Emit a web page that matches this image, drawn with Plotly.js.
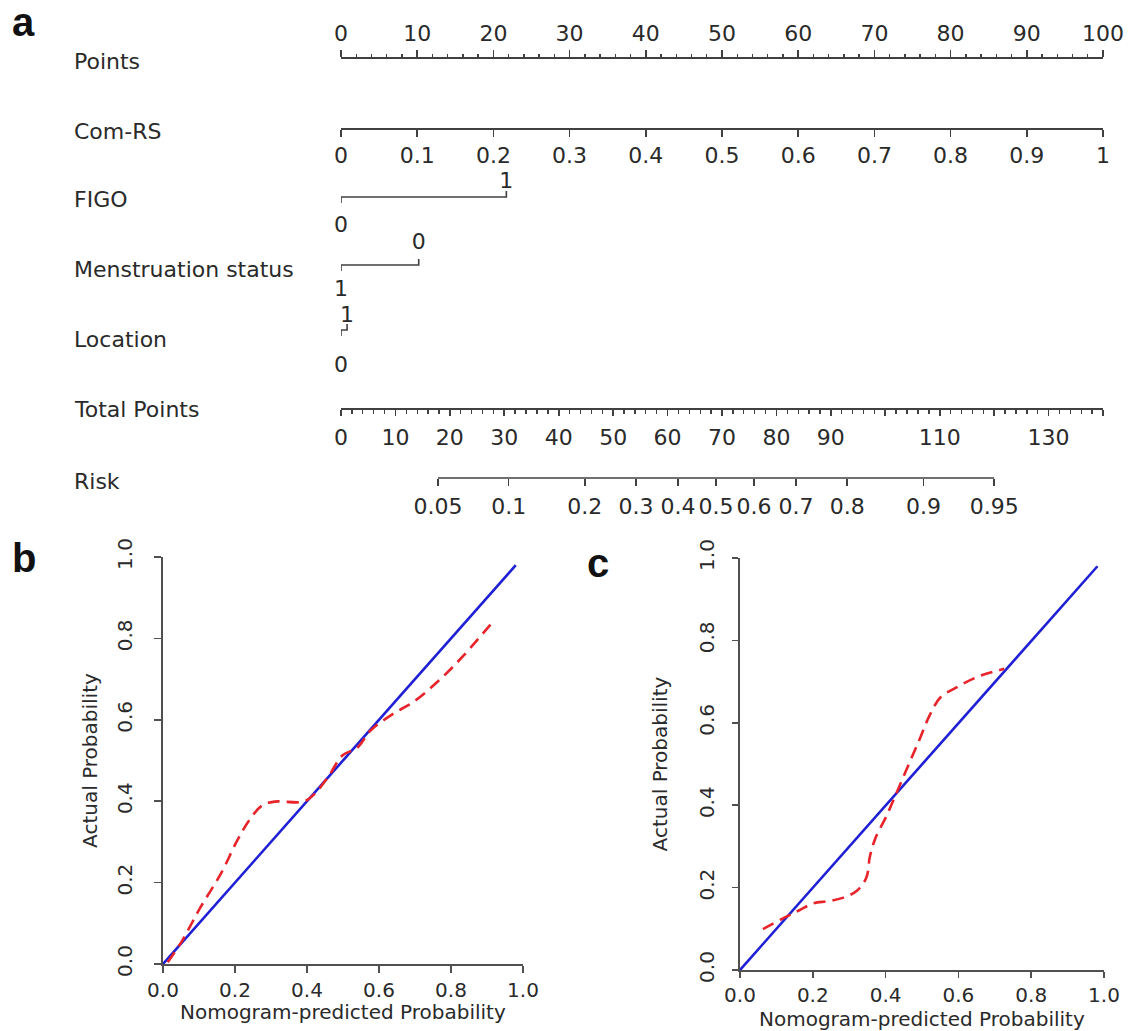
<!DOCTYPE html>
<html>
<head>
<meta charset="utf-8">
<script src="https://cdn.plot.ly/plotly-3.0.1.min.js"></script>
<style>html,body{margin:0;padding:0;background:#fff;}#chart{width:1129px;height:1031px;}</style>
</head>
<body>
<div id="chart"></div>
<script>
// ---------- DATA ----------
const rowLabels = ['Points', 'Com-RS', 'FIGO', 'Menstruation status', 'Location', 'Total Points', 'Risk'];

const pointsTickVals = [0, 10, 20, 30, 40, 50, 60, 70, 80, 90, 100];
const comrsTickVals = [0, 0.1, 0.2, 0.3, 0.4, 0.5, 0.6, 0.7, 0.8, 0.9, 1];
const comrsTickText = ['0', '0.1', '0.2', '0.3', '0.4', '0.5', '0.6', '0.7', '0.8', '0.9', '1'];

const figoLevels = ['0', '1'];
const figoPoints = [0, 21.7];
const mensLevels = ['1', '0'];
const mensPoints = [0, 10.2];
const locLevels = ['0', '1'];
const locPoints = [0, 0.8];

const totalTickVals = [0, 10, 20, 30, 40, 50, 60, 70, 80, 90, 100, 110, 120, 130, 140];
const totalTickText = ['0', '10', '20', '30', '40', '50', '60', '70', '80', '90', '', '110', '', '130', ''];

const riskLabels = ['0.05', '0.1', '0.2', '0.3', '0.4', '0.5', '0.6', '0.7', '0.8', '0.9', '0.95'];
const riskTotalPoints = [17.8, 30.8, 44.8, 54.2, 61.9, 68.9, 75.9, 83.6, 93.0, 107.0, 120.0];

const calTicks = [0, 0.2, 0.4, 0.6, 0.8, 1.0];
const calXTitle = 'Nomogram-predicted Probability';
const calYTitle = 'Actual Probability';

// panel b
const bIdealX = [0, 0.98];
const bIdealY = [0, 0.98];
const bCalX = [0.013, 0.053, 0.102, 0.162, 0.206, 0.241, 0.276, 0.31, 0.39, 0.42, 0.459, 0.499, 0.539, 0.578, 0.638, 0.697, 0.767, 0.836, 0.921];
const bCalY = [0.004, 0.057, 0.136, 0.224, 0.303, 0.355, 0.39, 0.399, 0.399, 0.417, 0.46, 0.513, 0.531, 0.575, 0.614, 0.645, 0.697, 0.759, 0.846];

// panel c
const cIdealX = [0, 0.982];
const cIdealY = [0, 0.98];
const cCalX = [0.063, 0.113, 0.163, 0.202, 0.242, 0.282, 0.322, 0.347, 0.357, 0.372, 0.402, 0.432, 0.462, 0.492, 0.521, 0.551, 0.591, 0.651, 0.726];
const cCalY = [0.099, 0.123, 0.145, 0.162, 0.167, 0.175, 0.193, 0.224, 0.276, 0.32, 0.373, 0.434, 0.496, 0.557, 0.618, 0.662, 0.684, 0.711, 0.731];

// ---------- LAYOUT HELPERS ----------
const W = 1129, H = 1031;
const FONT = 'DejaVu Sans, Liberation Sans, Arial, sans-serif';
const FS = 22;
const FS_CAL = 20;
const TXT = '#2a2a2a';
const LINE = '#404040';
const px = v => v / W;
const py = v => 1 - v / H;

const nomoLeft = 341, nomoRight = 1103;
const rowY = { points: 57, comrs: 128, figo: 197, mens: 265, loc: 330, total: 408, risk: 478 };
const labelY = [62, 131, 199, 270, 339, 410, 481];
const tk = 6;       // tick length of variable rows

const traces = [];

function levelRow(points, levels, y, belowOff, aboveOff) {
  const p0 = points[0], p1 = points[points.length - 1];
  traces.push({
    x: [p0, p0, p1, p1], y: [y + tk, y, y, y - tk],
    xaxis: 'x', yaxis: 'y', mode: 'lines', line: { color: LINE, width: 1.6 },
    cliponaxis: false, hoverinfo: 'skip'
  });
  traces.push({
    x: points, y: points.map((p, i) => i === 0 ? y + belowOff : y - aboveOff),
    text: levels, xaxis: 'x', yaxis: 'y', mode: 'text', textposition: 'middle center',
    textfont: { family: FONT, size: FS, color: TXT }, cliponaxis: false, hoverinfo: 'skip'
  });
}
levelRow(figoPoints, figoLevels, rowY.figo, 29, 15);
levelRow(mensPoints, mensLevels, rowY.mens, 25, 22);
levelRow(locPoints, locLevels, rowY.loc, 36, 14);

// hidden anchors for overlaying axes
['x2', 'x3'].forEach(ax => traces.push({ x: [0], y: [-500], xaxis: ax, yaxis: 'y', mode: 'markers', marker: { opacity: 0 }, hoverinfo: 'skip' }));

// risk axis line (only over the labelled range)
traces.push({
  x: [riskTotalPoints[0], riskTotalPoints[riskTotalPoints.length - 1]], y: [rowY.risk, rowY.risk],
  xaxis: 'x4', yaxis: 'y', mode: 'lines', line: { color: LINE, width: 1.6 }, cliponaxis: false, hoverinfo: 'skip'
});

// calibration panels
const BLUE = '#1f1fd6', RED = '#e8242b';
const DASH = '12px,7px';
traces.push({ x: bIdealX, y: bIdealY, xaxis: 'x5', yaxis: 'y5', mode: 'lines', line: { color: BLUE, width: 2.6 }, cliponaxis: false, hoverinfo: 'skip' });
traces.push({ x: bCalX, y: bCalY, xaxis: 'x5', yaxis: 'y5', mode: 'lines', line: { color: RED, width: 2.6, dash: DASH, shape: 'spline' }, hoverinfo: 'skip' });
traces.push({ x: cIdealX, y: cIdealY, xaxis: 'x6', yaxis: 'y6', mode: 'lines', line: { color: BLUE, width: 2.6 }, cliponaxis: false, hoverinfo: 'skip' });
traces.push({ x: cCalX, y: cCalY, xaxis: 'x6', yaxis: 'y6', mode: 'lines', line: { color: RED, width: 2.6, dash: DASH, shape: 'spline' }, hoverinfo: 'skip' });

const tickFont = { family: FONT, size: FS, color: TXT };
const calFont = { family: FONT, size: FS_CAL, color: TXT };
const nomoAxisBase = {
  anchor: 'free', showline: true, linecolor: LINE, linewidth: 1.6,
  ticks: 'outside', tickcolor: LINE, tickwidth: 1.6, ticklen: 7,
  showgrid: false, zeroline: false, fixedrange: true, tickfont: tickFont, tickmode: 'array'
};

function calAxes(x0, x1, y0, y1, yAnchor, xAnchor, o) {
  const common = {
    range: [0, 1], showline: true, linecolor: '#505050', linewidth: 1.6, mirror: false,
    ticks: 'outside', ticklen: o.ticklen, tickwidth: 1.6, tickcolor: '#505050',
    tickmode: 'array', tickvals: calTicks, tickformat: '.1f',
    showgrid: false, zeroline: false, fixedrange: true, tickfont: calFont
  };
  return [
    Object.assign({}, common, { domain: [px(x0), px(x1)], anchor: yAnchor, ticklabelstandoff: 0 }),
    Object.assign({}, common, { domain: [py(y0), py(y1)], anchor: xAnchor, tickangle: -90, ticklabelstandoff: o.yLabStand,
      title: { text: calYTitle, font: calFont, standoff: o.yStand } })
  ];
}
const bBox = { x0: 163, x1: 523, y0: 964, y1: 557 };
const cBox = { x0: 740, x1: 1104, y0: 970, y1: 558 };
const [xb, yb] = calAxes(bBox.x0, bBox.x1, bBox.y0, bBox.y1, 'y5', 'x5', { ticklen: 7, yLabStand: 14, yStand: 10 });
const [xc, yc] = calAxes(cBox.x0, cBox.x1, cBox.y0, cBox.y1, 'y6', 'x6', { ticklen: 6, yLabStand: 10, yStand: 22 });

const annotations = rowLabels.map((t, i) => ({
  text: t, xref: 'paper', x: px(72), xanchor: 'left', yref: 'paper', y: py(labelY[i]), yanchor: 'middle',
  showarrow: false, font: { family: FONT, size: FS, color: TXT }
}));
// x-axis titles of the calibration panels
[[bBox, 1012], [cBox, 1019]].forEach(([bx, yc_]) => annotations.push({
  text: calXTitle, xref: 'paper', yref: 'paper', x: px((bx.x0 + bx.x1) / 2), y: py(yc_),
  xanchor: 'center', yanchor: 'middle', showarrow: false, font: calFont, borderpad: 0
}));
const panelFont = { family: 'Liberation Sans, Arial, sans-serif', size: 40, color: '#111', weight: 700 };
[['a', 23, 22], ['b', 24, 558], ['c', 598, 563]].forEach(([t, x, y]) => annotations.push({
  text: '<b>' + t + '</b>', xref: 'paper', yref: 'paper', x: px(x), y: py(y), xanchor: 'center', yanchor: 'middle',
  showarrow: false, font: panelFont
}));

const layout = {
  width: W, height: H, margin: { l: 0, r: 0, t: 0, b: 0 },
  paper_bgcolor: '#fff', plot_bgcolor: 'rgba(0,0,0,0)', showlegend: false,
  xaxis: Object.assign({}, nomoAxisBase, {
    domain: [px(nomoLeft), px(nomoRight)], range: [0, 100], position: py(rowY.points), side: 'top',
    tickvals: pointsTickVals, ticklabelstandoff: 0,
    minor: { tickmode: 'linear', tick0: 0, dtick: 2, ticks: 'outside', ticklen: 3, tickcolor: LINE, tickwidth: 1.4 }
  }),
  xaxis2: Object.assign({}, nomoAxisBase, {
    overlaying: 'x', range: [0, 1], position: py(rowY.comrs), side: 'bottom',
    tickvals: comrsTickVals, ticktext: comrsTickText, ticklabelstandoff: 0
  }),
  xaxis3: Object.assign({}, nomoAxisBase, {
    overlaying: 'x', range: [0, 140], position: py(rowY.total), side: 'bottom',
    tickvals: totalTickVals, ticktext: totalTickText, ticklen: 6, ticklabelstandoff: 3,
    minor: { tickmode: 'linear', tick0: 0, dtick: 2, ticks: 'outside', ticklen: 4, tickcolor: LINE, tickwidth: 1.4 }
  }),
  xaxis4: Object.assign({}, nomoAxisBase, {
    overlaying: 'x', range: [0, 140], position: py(rowY.risk), side: 'bottom', showline: false,
    tickvals: riskTotalPoints, ticktext: riskLabels, ticklabelstandoff: 2
  }),
  yaxis: { domain: [0, 1], range: [H, 0], visible: false, fixedrange: true },
  xaxis5: xb, yaxis5: yb, xaxis6: xc, yaxis6: yc,
  annotations: annotations
};

Plotly.newPlot('chart', traces, layout, { staticPlot: true, displayModeBar: false });
</script>
</body>
</html>
